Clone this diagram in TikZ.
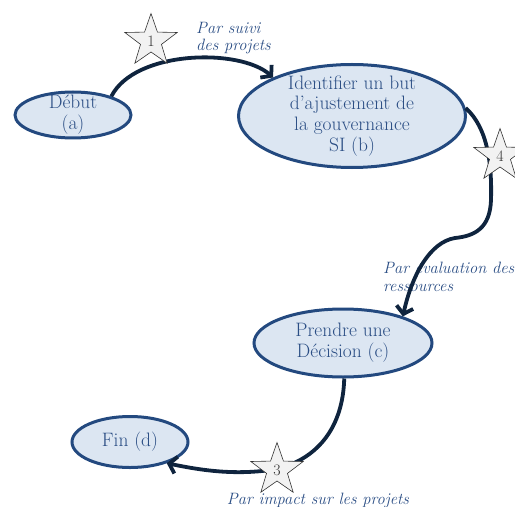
\documentclass[tikz,border=0pt]{standalone}
\usepackage{fontspec}
\usetikzlibrary{shapes.geometric,arrows.meta}
\definecolor{phasefill}{HTML}{DCE6F2}
\definecolor{phaseline}{HTML}{23497F}
\definecolor{phasetext}{HTML}{2A4D84}
\definecolor{linkcol}{HTML}{0F243E}
\definecolor{starfill}{HTML}{F2F2F2}

\begin{document}
\begin{tikzpicture}[x=1bp, y=-1bp,
  phase/.style={ellipse, fill=phasefill, draw=phaseline, line width=3bp, inner sep=-5bp,
    align=center, text=phasetext, font=\fontsize{19.5}{21}\selectfont},
  link/.style={draw=linkcol, line width=3.8bp, -{Straight Barb[length=7bp,width=17bp]}},
  flag/.style={star, star points=5, star point ratio=2.5, minimum size=55bp, inner sep=0pt,
    fill=starfill, draw=black!80, line width=0.6bp, text=black!80, font=\fontsize{16}{16}\selectfont},
  via/.style={align=left, text=phasetext, font=\fontsize{16.5}{17.5}\selectfont\itshape, inner sep=0pt},
  ]
  \useasboundingbox (0,0) rectangle (515,507);

  %%% phases %%%
  \node[phase, minimum width=116bp, minimum height=46bp] (debut) at (73,115) {Début\\(a)};
  \node[phase, minimum width=227bp, minimum height=103bp] (idf) at (352,116)
    {Identifier un but\\d'ajustement de\\la gouvernance\\SI (b)};
  \node[phase, minimum width=178bp, minimum height=68bp] (dec) at (343,343) {Prendre une\\Décision (c)};
  \node[phase, minimum width=116bp, minimum height=51bp] (fin) at (130,442) {Fin (d)};

  %%% transition labels %%%
  \node[via, anchor=north west] (l1) at (196,22) {Par suivi\\des projets};
  \node[via, anchor=north west] (l4) at (383,262) {Par évaluation des\\ressources};
  \node[via, anchor=north] (l3) at (318,493) {Par impact sur les projets};

  %%% connectors %%%
  \coordinate (bend) at (455,238);
  \coordinate (low) at (277,469);
  \draw[link] (debut.26) .. controls (135,50) and (240,48) .. (idf.154);
  \draw[link] (idf.4) .. controls (488,128) and (492,165) .. (491,200)
    .. controls (490,228) and (475,236) .. (bend)
    .. controls (430,242) and (412,275) .. (dec.24);
  \draw[link] (dec.-88) .. controls (343,425) and (320,458) .. (low)
    .. controls (235,476) and (200,470) .. (fin.-30);

  %%% numbered stars %%%
  \node[flag] (s1) at (151,41) {1};
  \node[flag] (s4) at (500,156) {4};
  \node[flag] (s3) at (277,470) {3};
\end{tikzpicture}
\end{document}
